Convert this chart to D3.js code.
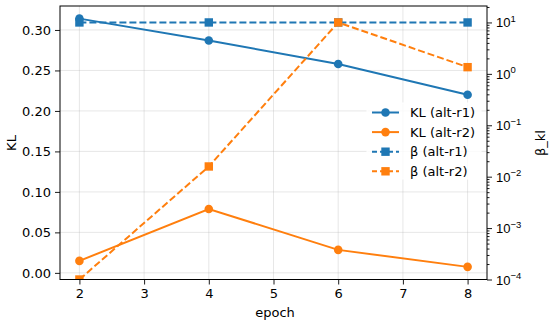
<!DOCTYPE html>
<html>
<head>
<meta charset="utf-8">
<script src="https://cdn.jsdelivr.net/npm/d3@7"></script>
<style>
body { margin: 0; background: #fff; }
svg { font-family: "DejaVu Sans", sans-serif; }
</style>
</head>
<body>
<svg id="chart"></svg>
<script>
// data
var epochs = [2, 4, 6, 8];
var klR1 = [0.314, 0.287, 0.258, 0.220];
var klR2 = [0.0148, 0.0789, 0.0284, 0.0074];
var betaR1 = [10, 10, 10, 10];
var betaR2 = [0.0001, 0.0158, 10, 1.35];
var xTicks = [2, 3, 4, 5, 6, 7, 8];
var klTicks = [0, 0.05, 0.10, 0.15, 0.20, 0.25, 0.30];
var betaExps = [-4, -3, -2, -1, 0, 1];
var names = ["KL (alt-r1)", "KL (alt-r2)", "β (alt-r1)", "β (alt-r2)"];

var screen = {width: 550, height: 325};
var box = {left: 60, right: 487, top: 6, bottom: 279.5};
var blue = "#1f77b4", orange = "#ff7f0e";
var fs = 13;

var svg = d3.select("#chart")
    .attr("width", screen.width)
    .attr("height", screen.height);

var xScale = d3.scaleLinear().domain([1.7, 8.3]).range([box.left, box.right]);
var yScale = d3.scaleLinear().domain([-0.0082, 0.3296]).range([box.bottom, box.top]);
var bScale = d3.scaleLog().domain([1e-4, Math.pow(10, 1.32)]).range([box.bottom, box.top]);

svg.append("defs").append("clipPath").attr("id", "clip")
    .append("rect")
    .attr("x", box.left).attr("y", box.top)
    .attr("width", box.right - box.left).attr("height", box.bottom - box.top);

// grid
var grid = svg.append("g").attr("stroke", "#b0b0b0").attr("stroke-opacity", 0.3).attr("stroke-width", 1);
grid.selectAll(".gx").data(xTicks).enter().append("line")
    .attr("x1", function(d) { return xScale(d); }).attr("x2", function(d) { return xScale(d); })
    .attr("y1", box.top).attr("y2", box.bottom);
grid.selectAll(".gy").data(klTicks).enter().append("line")
    .attr("x1", box.left).attr("x2", box.right)
    .attr("y1", function(d) { return yScale(d); }).attr("y2", function(d) { return yScale(d); });

// axes
var xAxis = d3.axisBottom(xScale).tickValues(xTicks).tickSize(5).tickPadding(4).tickFormat(d3.format("d"));
var yAxis = d3.axisLeft(yScale).tickValues(klTicks).tickSize(5).tickPadding(4).tickFormat(d3.format(".2f"));
var minor = [];
for (var e = -4; e <= 1; e++) for (var m = 2; m <= 9; m++) {
    var v = m * Math.pow(10, e);
    if (v <= bScale.domain()[1]) minor.push(v);
}
var bAxis = d3.axisRight(bScale).tickValues(betaExps.map(function(p) { return Math.pow(10, p); }))
    .tickSize(5).tickPadding(4).tickFormat("");
var bMinor = d3.axisRight(bScale).tickValues(minor).tickSize(2.5).tickFormat("");

function styleAxis(g) {
    g.select(".domain").remove();
    g.selectAll("line").attr("stroke", "#000").attr("stroke-width", 0.9);
    g.selectAll("text").attr("font-size", fs).attr("fill", "#000").attr("font-family", "DejaVu Sans");
}

svg.append("g").attr("transform", "translate(0," + box.bottom + ")").call(xAxis).call(styleAxis);
svg.append("g").attr("transform", "translate(" + box.left + ",0)").call(yAxis).call(styleAxis);
var bg = svg.append("g").attr("transform", "translate(" + box.right + ",0)").call(bAxis).call(styleAxis);
svg.append("g").attr("transform", "translate(" + box.right + ",0)").call(bMinor).call(styleAxis);

// log labels as 10^n with superscript
bg.selectAll(".tick").each(function(d) {
    var p = Math.round(Math.log10(d));
    var t = d3.select(this).append("text")
        .attr("x", 9).attr("y", 4.5)
        .attr("font-size", fs).attr("fill", "#000");
    t.append("tspan").text("10");
    t.append("tspan").attr("dy", -5.5).attr("font-size", 9.5)
        .text(p < 0 ? "\u2212" + (-p) : String(p));
});

// axis titles
svg.append("text").attr("x", 275).attr("y", 317).attr("text-anchor", "middle")
    .attr("font-size", fs).text("epoch");
svg.append("text").attr("transform", "translate(16,143) rotate(-90)").attr("text-anchor", "middle")
    .attr("font-size", fs).text("KL");
svg.append("text").attr("transform", "translate(545,143) rotate(-90)").attr("text-anchor", "middle")
    .attr("font-size", fs).text("β_kl");

// series
var series = [
    {vals: klR1, sc: yScale, color: blue, dash: null, mark: "circle"},
    {vals: klR2, sc: yScale, color: orange, dash: null, mark: "circle"},
    {vals: betaR1, sc: bScale, color: blue, dash: "7,3", mark: "square"},
    {vals: betaR2, sc: bScale, color: orange, dash: "7,3", mark: "square"}
];

var plot = svg.append("g").attr("clip-path", "url(#clip)");

var drawMark = function(g, kind, x, y, color) {
    if (kind == "circle") {
        g.append("circle").attr("cx", x).attr("cy", y).attr("r", 4.3).attr("fill", color);
    } else {
        g.append("rect").attr("x", x - 4.2).attr("y", y - 4.2).attr("width", 8.4).attr("height", 8.4).attr("fill", color);
    }
};

series.forEach(function(s) {
    var line = d3.line()
        .x(function(d, i) { return xScale(epochs[i]); })
        .y(function(d) { return s.sc(d); });
    plot.append("path").datum(s.vals)
        .attr("d", line)
        .attr("fill", "none")
        .attr("stroke", s.color)
        .attr("stroke-width", 2)
        .attr("stroke-dasharray", s.dash);
    s.vals.forEach(function(v, i) {
        drawMark(plot, s.mark, xScale(epochs[i]), s.sc(v), s.color);
    });
});

// frame
svg.append("rect").attr("x", box.left).attr("y", box.top)
    .attr("width", box.right - box.left).attr("height", box.bottom - box.top)
    .attr("fill", "none").attr("stroke", "#000").attr("stroke-width", 1);

// legend
var legend = svg.append("g").attr("transform", "translate(367,103)");
legend.append("rect").attr("width", 114).attr("height", 76).attr("rx", 3)
    .attr("fill", "#fff").attr("fill-opacity", 0.8).attr("stroke", "#fff");
var rows = legend.selectAll(".row").data(series).enter().append("g")
    .attr("transform", function(d, i) { return "translate(0," + (9.5 + i * 19.6) + ")"; });
rows.each(function(s, i) {
    var g = d3.select(this);
    g.append("line").attr("x1", 5).attr("x2", 32).attr("y1", 0).attr("y2", 0)
        .attr("stroke", s.color).attr("stroke-width", 2).attr("stroke-dasharray", s.dash ? "5,3" : null);
    drawMark(g, s.mark, 18.5, 0, s.color);
    g.append("text").attr("x", 43).attr("y", 4.5).attr("font-size", fs).text(names[i]);
});
</script>
</body>
</html>
